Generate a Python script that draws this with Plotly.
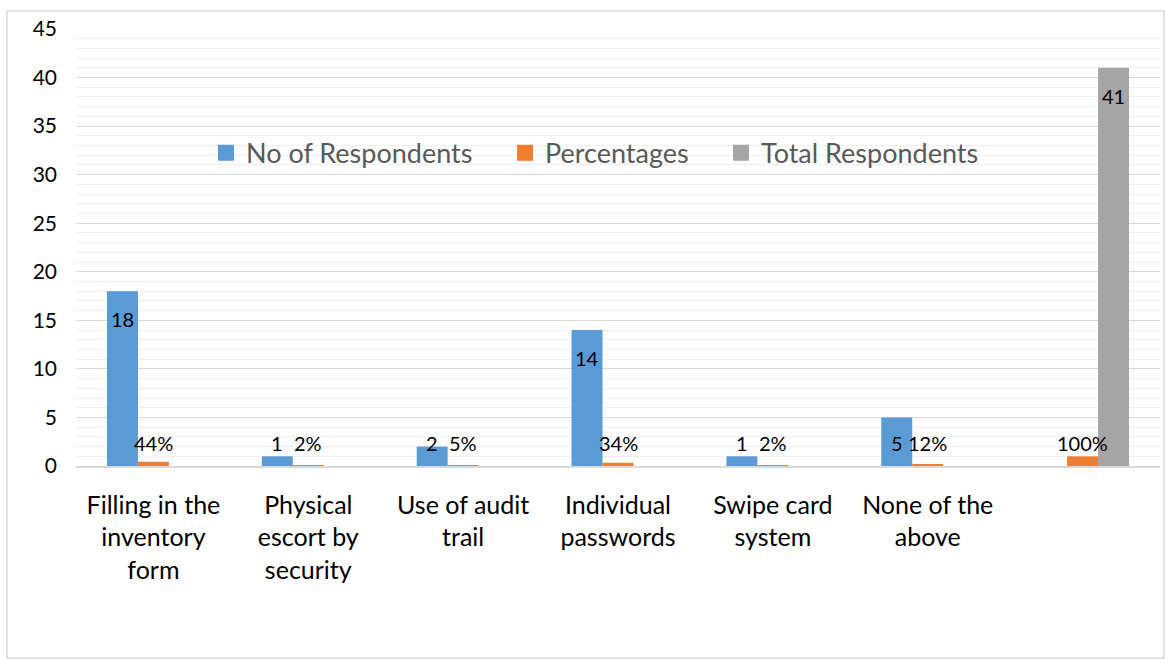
import plotly.graph_objects as go

categories = ["Filling in the<br>inventory<br>form", "Physical<br>escort by<br>security",
              "Use of audit<br>trail", "Individual<br>passwords", "Swipe card<br>system",
              "None of the<br>above", ""]
no_of_respondents = [18, 1, 2, 14, 1, 5, None]
percentages = [0.44, 0.02, 0.05, 0.34, 0.02, 0.12, 1.0]
percentage_labels = ["44%", "2%", "5%", "34%", "2%", "12%", "100%"]
total_respondents = [None, None, None, None, None, None, 41]

colors = ["#5B9BD5", "#ED7D31", "#A5A5A5"]
FONT = "Lato"
x = list(range(len(categories)))

fig = go.Figure()
series = [
    ("No of Respondents", no_of_respondents, [None if v is None else str(v) for v in no_of_respondents]),
    ("Percentages", percentages, percentage_labels),
    ("Total Respondents", total_respondents, [None if v is None else str(v) for v in total_respondents]),
]
annotations = []
bargap = 0.4
slot = (1 - bargap) / 3
for k, (name, vals, labels) in enumerate(series):
    fig.add_trace(go.Bar(name=name, x=x, y=vals, marker=dict(color=colors[k], line=dict(width=0)),
                         hoverinfo="skip", showlegend=False))
    for i, (v, lab) in enumerate(zip(vals, labels)):
        if v is None:
            continue
        annotations.append(dict(x=i + (k - 1) * slot, y=max(v - 2.9, 2.35), xref="x", yref="y",
                                text=lab, showarrow=False, font=dict(family=FONT, size=20, color="#000000"),
                                xanchor="center", yanchor="middle"))

# legend entries with larger square swatches, one legend per entry for spacing
legend_names = ["legend", "legend2", "legend3"]
legend_x = [0.1199, 0.3958, 0.595]
for k, (name, vals, labels) in enumerate(series):
    fig.add_trace(go.Scatter(name=name, x=[None], y=[None], mode="markers",
                             marker=dict(symbol="square", size=16, color=colors[k]),
                             hoverinfo="skip", showlegend=True, legend=legend_names[k]))

# chart border
fig.add_shape(type="rect", xref="paper", yref="paper", x0=-0.0637, x1=1.0037, y0=-0.44, y1=1.041,
              line=dict(color="#D9D9D9", width=1.5), fillcolor="rgba(0,0,0,0)", layer="below")

legend_common = dict(orientation="h", y=0.716, xanchor="left", yanchor="middle",
                     font=dict(family=FONT, size=27, color="#595959"), bgcolor="rgba(0,0,0,0)",
                     itemclick=False, itemdoubleclick=False, itemwidth=30)

fig.update_layout(
    width=1165, height=659,
    margin=dict(l=76, r=5, t=29, b=193),
    paper_bgcolor="white", plot_bgcolor="white",
    barmode="group", bargap=bargap, bargroupgap=0,
    font=dict(family=FONT, size=20, color="#000000"),
    annotations=annotations,
    legend=dict(x=legend_x[0], **legend_common),
    legend2=dict(x=legend_x[1], **legend_common),
    legend3=dict(x=legend_x[2], **legend_common),
    xaxis=dict(tickmode="array", tickvals=x, ticktext=categories, range=[-0.5, 6.5],
               showgrid=False, showline=True, linecolor="#D9D9D9", linewidth=1.5,
               ticks="", ticklabelstandoff=16, tickfont=dict(family=FONT, size=25, color="#000000"),
               zeroline=False),
    yaxis=dict(range=[0, 45], dtick=5, showgrid=True, gridcolor="#D9D9D9", gridwidth=1.3,
               minor=dict(dtick=1, showgrid=True, gridcolor="#F0F0F0", gridwidth=1),
               zeroline=False, showline=False, ticks="", ticklabelstandoff=18,
               tickfont=dict(family=FONT, size=21, color="#000000")),
)

fig.write_html("out.html")
